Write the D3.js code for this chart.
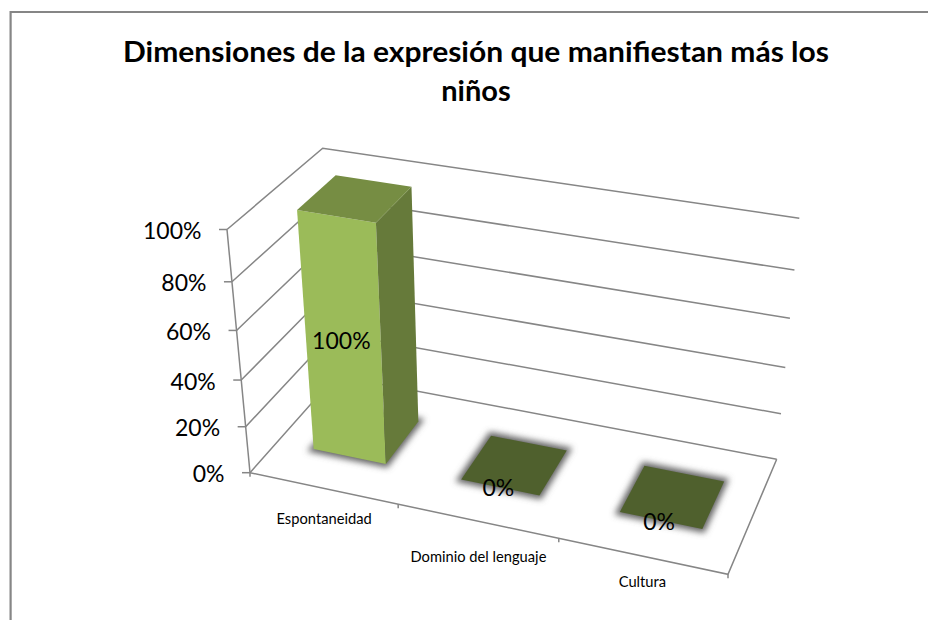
<!DOCTYPE html>
<html>
<head>
<meta charset="utf-8">
<script src="https://cdnjs.cloudflare.com/ajax/libs/d3/7.8.5/d3.min.js"></script>
<style>
	html, body { margin: 0; padding: 0; background: #fff; }
	svg { display: block; }
	text { font-family: Lato, "Open Sans", sans-serif; fill: #000; }
	.grid { fill: none; stroke: #868686; stroke-width: 1.5; }
</style>
</head>
<body>
<svg width="928" height="620"></svg>
<script>
// chart data
var titleLines = ["Dimensiones de la expresión que manifiestan más los", "niños"];
var categories = ["Espontaneidad", "Dominio del lenguaje", "Cultura"];
var values = [100, 0, 0];
var valueTicks = [0, 20, 40, 60, 80, 100];

var svg = d3.select("svg");

// corners of the 3d box as seen on the page
var floorBox = { fl: [250, 472.7], fr: [728, 574.3], br: [776.7, 459.3], bl: [336, 375.7] };
var topBox = { fl: [227, 229.5], fr: [751, 318], br: [799.3, 218.3], bl: [322.7, 148.3] };

// the scales are bent a little because of the perspective
var catScale = d3.scaleLinear().domain([0, 1, 2, 3]).range([0, 0.31, 0.646, 1]);
var depthScale = d3.scaleLinear().domain([0, 0.25, 0.75, 1]).range([0, 0.32, 0.74, 1]);
var valueScale = d3.scaleLinear().domain(valueTicks).range([0, 0.189, 0.381, 0.585, 0.785, 1]);

function on_plane(box, s, t) {
	var a = d3.interpolate(box.fl, box.fr)(s);
	var b = d3.interpolate(box.bl, box.br)(s);
	return d3.interpolate(a, b)(t);
}

// c: category position, d: depth 0..1, v: value
function project(c, d, v) {
	var s = catScale(c), t = depthScale(d);
	return d3.interpolate(on_plane(floorBox, s, t), on_plane(topBox, s, t))(valueScale(v));
}

var line = d3.line();
var polygon = function(pts) { return line(pts) + "Z"; };

function draw_frame() {
	// the picture is cropped: only the top and left borders show
	svg.append("path")
		.attr("d", "M10.6,620V12H928")
		.attr("fill", "none")
		.attr("stroke", "#868686")
		.attr("stroke-width", 2.2);
}

function draw_title() {
	svg.append("g").selectAll("text")
		.data(titleLines)
		.enter().append("text")
		.attr("x", 476)
		.attr("y", function(d, i) { return 62 + i * 38.5; })
		.attr("text-anchor", "middle")
		.attr("font-size", 29)
		.attr("font-weight", "bold")
		.attr("textLength", function(d, i) { return i == 0 ? 706 : null; })
		.attr("lengthAdjust", "spacingAndGlyphs")
		.text(function(d) { return d; });
}

function draw_walls() {
	var n = categories.length;
	var g = svg.append("g");

	g.selectAll("path.wall")
		.data(valueTicks)
		.enter().append("path")
		.attr("class", "grid wall")
		.attr("d", function(v) {
			return line([project(0, 0, v), project(0, 1, v), project(n, 1, v)]);
		});

	// left axis and its ticks
	g.append("path")
		.attr("class", "grid")
		.attr("d", line([project(0, 0, 0), project(0, 0, 100)]));
	g.selectAll("path.ytick")
		.data(valueTicks)
		.enter().append("path")
		.attr("class", "grid ytick")
		.attr("d", function(v) {
			var p = project(0, 0, v);
			return line([[p[0] - 8, p[1]], p]);
		});

	// floor edges and category ticks
	g.append("path")
		.attr("class", "grid")
		.attr("d", line([project(0, 0, 0), project(n, 0, 0), project(n, 1, 0)]));
	g.selectAll("path.xtick")
		.data(d3.range(n + 1))
		.enter().append("path")
		.attr("class", "grid xtick")
		.attr("d", function(i) {
			var p = project(i, 0, 0);
			return line([p, [p[0], p[1] + 4]]);
		});

	g.selectAll("text.ylab")
		.data(valueTicks)
		.enter().append("text")
		.attr("class", "ylab")
		.attr("x", function(v) { return project(0, 0, v)[0] - 25.5; })
		.attr("y", function(v) { return project(0, 0, v)[1] + 9.5; })
		.attr("text-anchor", "end")
		.attr("font-size", 23)
		.text(function(v) { return v + "%"; });

	// excel places these a bit unevenly
	var nudge = [[0, 35.6], [0, 41], [-1, 31]];
	g.selectAll("text.xlab")
		.data(categories)
		.enter().append("text")
		.attr("class", "xlab")
		.attr("x", function(d, i) { return project(i + 0.5, 0, 0)[0] + nudge[i][0]; })
		.attr("y", function(d, i) { return project(i + 0.5, 0, 0)[1] + nudge[i][1]; })
		.attr("text-anchor", "middle")
		.attr("font-size", 14.7)
		.text(function(d) { return d; });
}

function draw_bars() {
	var defs = svg.append("defs");
	defs.append("filter")
		.attr("id", "soft")
		.attr("x", "-30%").attr("y", "-30%")
		.attr("width", "160%").attr("height", "160%")
		.append("feGaussianBlur")
		.attr("stdDeviation", 3);

	var rows = values.map(function(v, i) { return { i: i, v: v }; });

	function corners(d, dep, v) {
		return [project(d.i + 0.25, dep, v), project(d.i + 0.75, dep, v)];
	}

	svg.append("g").selectAll("path")
		.data(rows)
		.enter().append("path")
		.attr("d", function(d) {
			var f = corners(d, 0.25, 0), b = corners(d, 0.75, 0);
			return polygon([f[0], f[1], b[1], b[0]]);
		})
		.attr("fill", "#555")
		.attr("stroke", "#666")
		.attr("stroke-width", 7)
		.attr("filter", "url(#soft)");

	var bar = svg.append("g").selectAll("g")
		.data(rows)
		.enter().append("g");

	// flat bars show only their lid, from the same faces
	bar.filter(function(d) { return d.v > 0; }).append("path")
		.attr("d", function(d) {
			var f0 = corners(d, 0.25, 0), f1 = corners(d, 0.25, d.v);
			return polygon([f0[0], f0[1], f1[1], f1[0]]);
		})
		.attr("fill", "#9bbb59");
	bar.filter(function(d) { return d.v > 0; }).append("path")
		.attr("d", function(d) {
			var a = project(d.i + 0.75, 0.25, 0), b = project(d.i + 0.75, 0.75, 0);
			var c = project(d.i + 0.75, 0.75, d.v), e = project(d.i + 0.75, 0.25, d.v);
			return polygon([a, b, c, e]);
		})
		.attr("fill", "#667a3a");
	bar.append("path")
		.attr("d", function(d) {
			var f = corners(d, 0.25, d.v), b = corners(d, 0.75, d.v);
			return polygon([f[0], f[1], b[1], b[0]]);
		})
		.attr("fill", function(d) { return d.v > 0 ? "#768d43" : "#4f602d"; });

	svg.append("g").selectAll("text")
		.data(rows)
		.enter().append("text")
		.attr("x", function(d) { return project(d.i + 0.5, 0.25, d.v / 2)[0] - 2; })
		.attr("y", function(d) { return project(d.i + 0.5, 0.25, d.v / 2)[1] + 9; })
		.attr("text-anchor", "middle")
		.attr("font-size", 23)
		.text(function(d) { return d.v + "%"; });
}

draw_frame();
draw_title();
draw_walls();
draw_bars();
</script>
</body>
</html>
